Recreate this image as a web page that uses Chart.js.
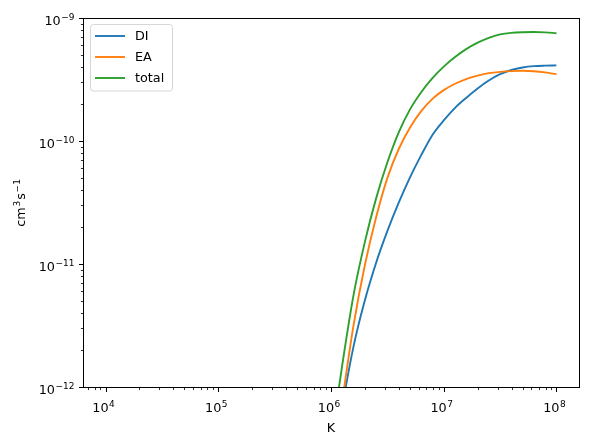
<!DOCTYPE html>
<html lang="en">
<head>
  <meta charset="UTF-8" />
  <title>DI / EA rate coefficients</title>
  <script src="https://cdn.jsdelivr.net/npm/chart.js"></script>
  <style>
    html, body { margin: 0; padding: 0; background: #fff; }
    #wrap { width: 589px; height: 445px; }
  </style>
</head>
<body>
  <div id="wrap"><canvas id="rateChart" width="589" height="445"></canvas></div>

  <script>
    // Temperatures (K), one point every 0.1 dex
    const temps = [1.00e6, 1.26e6, 1.58e6, 2.00e6, 2.51e6, 3.16e6, 3.98e6, 5.01e6, 6.31e6, 7.94e6,
                   1.00e7, 1.26e7, 1.58e7, 2.00e7, 2.51e7, 3.16e7, 3.98e7, 5.01e7, 6.31e7, 7.94e7, 1.00e8];

    // Rate coefficients, cm^3 s^-1
    const diRate = [1.78e-13, 6.89e-13, 2.11e-12, 5.09e-12, 1.02e-11, 1.85e-11, 3.14e-11, 5.04e-11, 7.67e-11, 1.12e-10,
                    1.47e-10, 1.86e-10, 2.24e-10, 2.67e-10, 3.10e-10, 3.49e-10, 3.78e-10, 3.96e-10, 4.06e-10, 4.10e-10, 4.12e-10];
    const eaRate = [1.58e-13, 7.69e-13, 3.13e-12, 9.86e-12, 2.39e-11, 4.99e-11, 8.57e-11, 1.28e-10, 1.75e-10, 2.20e-10,
                    2.59e-10, 2.92e-10, 3.19e-10, 3.40e-10, 3.56e-10, 3.65e-10, 3.70e-10, 3.72e-10, 3.69e-10, 3.61e-10, 3.49e-10];
    const totalRate = [3.55e-13, 1.52e-12, 5.51e-12, 1.52e-11, 3.40e-11, 6.68e-11, 1.17e-10, 1.80e-10, 2.49e-10, 3.24e-10,
                       4.02e-10, 4.81e-10, 5.58e-10, 6.30e-10, 6.90e-10, 7.35e-10, 7.57e-10, 7.66e-10, 7.69e-10, 7.64e-10, 7.52e-10];

    const seriesNames = ["DI", "EA", "total"];
    const seriesColors = ["#1f77b4", "#ff7f0e", "#2ca02c"];

    // Axis decades shown with labels
    const xTickExps = [4, 5, 6, 7, 8];
    const yTickExps = [-12, -11, -10, -9];
    const xLimits = [Math.pow(10, 3.8), Math.pow(10, 8.2)];
    const yLimits = [1e-12, 1e-9];

    const FONT = '"DejaVu Sans", Verdana, sans-serif';
    const MINUS = "\u2212";

    function points(ys) {
      return temps.map((t, i) => ({ x: t, y: ys[i] }));
    }

    // draw "10" with a raised exponent; align = "center" or "right"
    function drawPower(ctx, exp, x, baseY, align) {
      const expText = String(exp).replace("-", MINUS);
      ctx.font = "12.8px " + FONT;
      const wBase = ctx.measureText("10").width;
      ctx.font = "9px " + FONT;
      const wExp = ctx.measureText(expText).width;
      const w = wBase + wExp + 0.5;
      let x0 = align === "right" ? x - w : x - w / 2;
      ctx.textAlign = "left";
      ctx.textBaseline = "alphabetic";
      ctx.fillStyle = "#000";
      ctx.font = "12.8px " + FONT;
      ctx.fillText("10", x0, baseY);
      ctx.font = "9px " + FONT;
      ctx.fillText(expText, x0 + wBase + 0.5, baseY - 4.8);
    }

    // minor positions 2..9 x 10^n inside the limits
    function minorTicks(lo, hi) {
      const out = [];
      for (let n = Math.floor(Math.log10(lo)) - 1; n <= Math.ceil(Math.log10(hi)); n++) {
        for (let k = 2; k <= 9; k++) {
          const v = k * Math.pow(10, n);
          if (v >= lo && v <= hi) out.push(v);
        }
      }
      return out;
    }

    const axesPlugin = {
      id: "mplAxes",
      afterDraw(chart) {
        const ctx = chart.ctx;
        const a = chart.chartArea;
        const xs = chart.scales.x;
        const ys = chart.scales.y;
        ctx.save();

        // frame
        ctx.strokeStyle = "#000";
        ctx.lineWidth = 1;
        ctx.strokeRect(Math.round(a.left) + 0.5, Math.round(a.top) + 0.5,
                       Math.round(a.right - a.left), Math.round(a.bottom - a.top));

        const bottom = Math.round(a.bottom) + 0.5;
        const left = Math.round(a.left) + 0.5;

        // major ticks
        ctx.beginPath();
        ctx.lineWidth = 1;
        xTickExps.forEach(e => {
          const px = Math.round(xs.getPixelForValue(Math.pow(10, e))) + 0.5;
          ctx.moveTo(px, bottom); ctx.lineTo(px, bottom + 4.5);
        });
        yTickExps.forEach(e => {
          const py = Math.round(ys.getPixelForValue(Math.pow(10, e))) + 0.5;
          ctx.moveTo(left, py); ctx.lineTo(left - 4.5, py);
        });
        ctx.stroke();

        // minor ticks
        ctx.beginPath();
        ctx.lineWidth = 0.8;
        minorTicks(xLimits[0], xLimits[1]).forEach(v => {
          const px = Math.round(xs.getPixelForValue(v)) + 0.5;
          ctx.moveTo(px, bottom); ctx.lineTo(px, bottom + 2.6);
        });
        minorTicks(yLimits[0], yLimits[1]).forEach(v => {
          const py = Math.round(ys.getPixelForValue(v)) + 0.5;
          ctx.moveTo(left, py); ctx.lineTo(left - 2.6, py);
        });
        ctx.stroke();

        // tick labels
        xTickExps.forEach(e => {
          const px = xs.getPixelForValue(Math.pow(10, e));
          drawPower(ctx, e, px - 2, a.bottom + 25, "center");
        });
        yTickExps.forEach(e => {
          const py = ys.getPixelForValue(Math.pow(10, e));
          drawPower(ctx, e, a.left - 8.5, py + 7, "right");
        });

        // axis titles
        ctx.fillStyle = "#000";
        ctx.font = "12.8px " + FONT;
        ctx.textAlign = "center";
        ctx.textBaseline = "alphabetic";
        ctx.fillText("K", (a.left + a.right) / 2, a.bottom + 44.5);

        ctx.save();
        ctx.translate(24.5, (a.top + a.bottom) / 2);
        ctx.rotate(-Math.PI / 2);
        const parts = [["cm", 12.8, 0], ["3", 9, -4.8], ["s", 12.8, 0], [MINUS + "1", 9, -4.8]];
        let total = 0;
        parts.forEach(p => { ctx.font = p[1] + "px " + FONT; total += ctx.measureText(p[0]).width + 0.8; });
        let cx = -total / 2;
        ctx.textAlign = "left";
        parts.forEach(p => {
          ctx.font = p[1] + "px " + FONT;
          ctx.fillText(p[0], cx, p[2]);
          cx += ctx.measureText(p[0]).width + 0.8;
        });
        ctx.restore();

        // legend box, upper left
        const bx = 90.5, by = 24.5, bw = 82, bh = 66.5;
        ctx.beginPath();
        ctx.roundRect(bx, by, bw, bh, 3);
        ctx.fillStyle = "rgba(255,255,255,0.8)";
        ctx.fill();
        ctx.strokeStyle = "#d6d6d6";
        ctx.lineWidth = 1;
        ctx.stroke();
        ctx.font = "12.8px " + FONT;
        ctx.textAlign = "left";
        ctx.textBaseline = "middle";
        seriesNames.forEach((name, i) => {
          const ly = 36 + i * 21;
          ctx.beginPath();
          ctx.strokeStyle = seriesColors[i];
          ctx.lineWidth = 1.9;
          ctx.moveTo(95, ly); ctx.lineTo(125, ly);
          ctx.stroke();
          ctx.fillStyle = "#000";
          ctx.fillText(name, 135, ly + 0.5);
        });

        ctx.restore();
      }
    };

    const series = [diRate, eaRate, totalRate];
    new Chart(document.getElementById("rateChart").getContext("2d"), {
      type: "line",
      data: {
        datasets: series.map((ys, i) => ({
          label: seriesNames[i],
          data: points(ys),
          borderColor: seriesColors[i],
          backgroundColor: seriesColors[i],
          borderWidth: 1.9,
          pointRadius: 0,
          cubicInterpolationMode: "monotone",
          fill: false,
          clip: 0,
          order: series.length - i
        }))
      },
      options: {
        responsive: false,
        animation: false,
        devicePixelRatio: 1,
        layout: { padding: { left: 83, top: 18, right: 10, bottom: 58 } },
        plugins: { legend: { display: false }, tooltip: { enabled: false } },
        scales: {
          x: { type: "logarithmic", min: xLimits[0], max: xLimits[1], display: false },
          y: { type: "logarithmic", min: yLimits[0], max: yLimits[1], display: false }
        }
      },
      plugins: [axesPlugin]
    });
  </script>
</body>
</html>
